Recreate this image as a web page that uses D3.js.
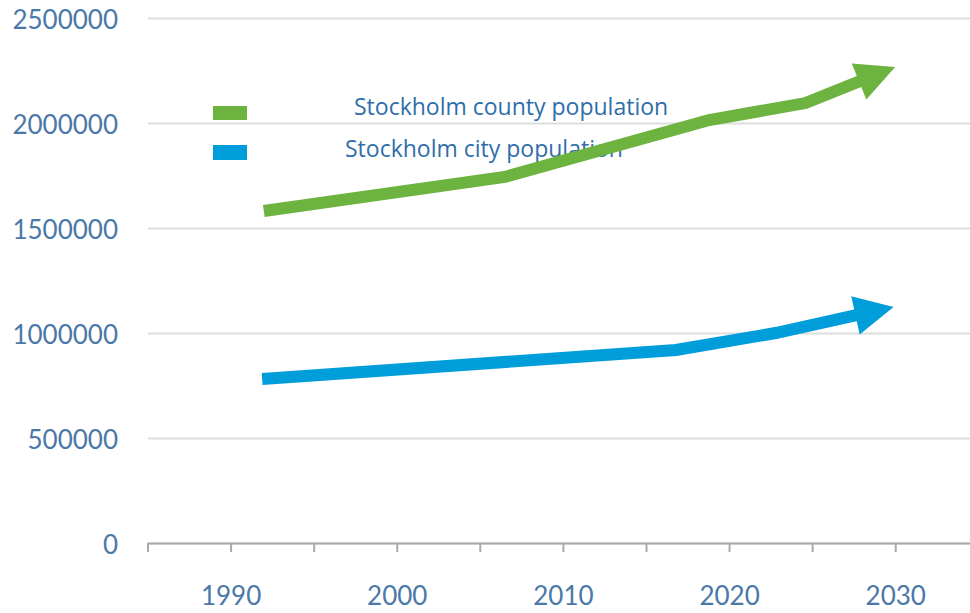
<!DOCTYPE html>
<html>
<head>
<meta charset="utf-8">
<script src="https://cdn.jsdelivr.net/npm/d3@7"></script>
<style>
  body { margin: 0; background: #fff; }
  svg { display: block; }
</style>
</head>
<body>
<script>
// values
var countyYears = [1992, 2006.5, 2018.8, 2024.6, 2030];
var countyPop = [1581000, 1743000, 2014000, 2095000, 2267000];
var cityYears = [1991.9, 2016.8, 2022.8, 2029.9];
var cityPop = [781000, 919000, 1000000, 1124000];
var yTicks = [0, 500000, 1000000, 1500000, 2000000, 2500000];
var xTicks = [1985, 1990, 1995, 2000, 2005, 2010, 2015, 2020, 2025, 2030];
var legendLabels = ["Stockholm county population", "Stockholm city population"];

var width = 970, height = 613;
var green = "#6db33f", blue = "#009ddb";
var labelColor = "#4a78a8";

var svg = d3.select("body")
    .append("svg")
    .attr("width", width)
    .attr("height", height);

var x = d3.scaleLinear()
    .domain([1985, 2034.5])
    .range([147.5, 970]);
var y = d3.scaleLinear()
    .domain([0, 2500000])
    .range([543, 18]);

// horizontal gridlines + y labels
var yAxis = svg.append("g")
    .attr("transform", "translate(148,0)")
    .call(d3.axisLeft(y)
        .tickValues(yTicks)
        .tickSize(-(width - 148))
        .tickPadding(30)
        .tickFormat(d3.format("d")));
yAxis.select(".domain").remove();
yAxis.selectAll("line")
    .attr("stroke", "#dddddd")
    .attr("stroke-width", 2);
yAxis.selectAll("text")
    .attr("dy", "0.42em")
    .style("font-family", "Lato, sans-serif")
    .style("font-size", "26px")
    .attr("fill", labelColor);

// x axis
var xAxis = svg.append("g")
    .attr("transform", "translate(0,543)")
    .call(d3.axisBottom(x)
        .tickValues(xTicks)
        .tickSize(9)
        .tickSizeOuter(0)
        .tickPadding(35)
        .tickFormat(function(d) { return d % 10 === 0 ? d : ""; }));
xAxis.select(".domain")
    .attr("stroke", "#aaaaaa")
    .attr("stroke-width", 2);
xAxis.selectAll("line")
    .attr("stroke", "#aaaaaa")
    .attr("stroke-width", 2);
xAxis.selectAll("text")
    .style("font-family", "Lato, sans-serif")
    .style("font-size", "26px")
    .attr("fill", labelColor);

// legend (drawn before the lines, the green line runs over it)
var legend = svg.append("g");
legend.append("rect").attr("x", 213).attr("y", 106).attr("width", 34).attr("height", 14).attr("fill", green);
legend.append("rect").attr("x", 213).attr("y", 145).attr("width", 34).attr("height", 15).attr("fill", blue);
legend.append("text").attr("x", 354).attr("y", 115)
    .text(legendLabels[0]);
legend.append("text").attr("x", 345).attr("y", 157)
    .text(legendLabels[1]);
legend.selectAll("text")
    .style("font-family", "'Open Sans', sans-serif")
    .style("font-size", "23px")
    .attr("fill", "#2f6eaa");

// line ending in an arrow head
function arrowLine(years, values, colour) {
    var pts = years.map(function(d, i) { return [x(d), y(values[i])]; });
    var tip = pts[pts.length - 1];
    var prev = pts[pts.length - 2];
    var dx = tip[0] - prev[0], dy = tip[1] - prev[1];
    var len = Math.sqrt(dx * dx + dy * dy);
    var ux = dx / len, uy = dy / len;
    var headLen = 39, headHalf = 19.5;
    var base = [tip[0] - ux * headLen, tip[1] - uy * headLen];

    var shaft = pts.slice(0, -1).concat([[base[0] + ux * 2, base[1] + uy * 2]]);
    svg.append("path")
        .attr("d", d3.line()(shaft))
        .attr("fill", "none")
        .attr("stroke", colour)
        .attr("stroke-width", 12)
        .attr("stroke-linejoin", "miter");

    var head = [
        tip,
        [base[0] - uy * headHalf, base[1] + ux * headHalf],
        [base[0] + uy * headHalf, base[1] - ux * headHalf]
    ];
    svg.append("path")
        .attr("d", d3.line()(head) + "Z")
        .attr("fill", colour);
}

arrowLine(cityYears, cityPop, blue);
arrowLine(countyYears, countyPop, green);
</script>
</body>
</html>
